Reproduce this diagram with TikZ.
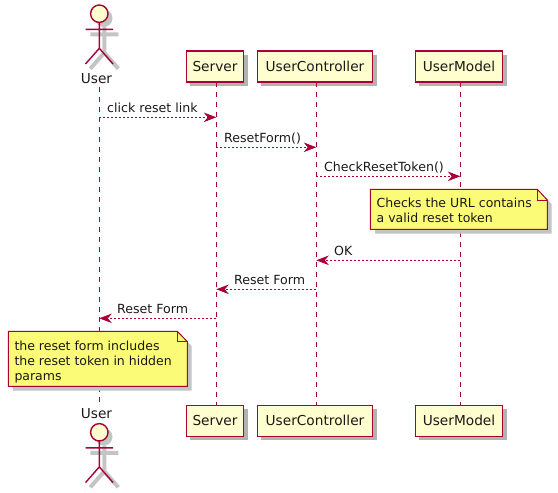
\documentclass[tikz,border=0pt]{standalone}
\usepackage{fontspec}
\setmainfont{DejaVu Sans}
\usetikzlibrary{arrows.meta, shadows}
\definecolor{umlred}{HTML}{A80036}
\definecolor{umlfill}{HTML}{FEFECE}
\definecolor{umlnote}{HTML}{FBFB77}
\definecolor{umlshadow}{HTML}{C4C4C4}
\newcommand{\umlactor}[2]{% head centre x, y
  \fill[umlshadow] (#1+4.5,#2+4.5) circle (8.7);
  \draw[umlshadow, line width=4pt] (#1+5,#2+13) -- (#1+5,#2+39) (#1-9,#2+20.6) -- (#1+19,#2+20.6) (#1-9,#2+55) -- (#1+5,#2+39) -- (#1+19,#2+55);
  \draw[umlred, line width=1.4pt, fill=umlfill] (#1,#2) circle (8.7);
  \draw[umlred, line width=1.4pt] (#1,#2+8.7) -- (#1,#2+34.6) (#1-13.8,#2+15.6) -- (#1+13.8,#2+15.6) (#1-13.8,#2+50.3) -- (#1,#2+34.6) -- (#1+13.8,#2+50.3);
}
\begin{document}
\begin{tikzpicture}[x=1pt, y=-1pt,
    box style/.style={draw=umlred, fill=umlfill, line width=1.4pt, minimum height=31pt, inner sep=0pt, font=\fontsize{13.7}{16}\selectfont, text=black!90, drop shadow={shadow xshift=4pt, shadow yshift=-4pt, fill=black!30, opacity=1}},
    actor label/.style={font=\fontsize{13.7}{16}\selectfont, text=black!90, inner sep=0pt},
    life style/.style={draw=umlred, dash pattern=on 5pt off 5pt, line width=0.8pt},
    msg style/.style={draw=umlred, dash pattern=on 2pt off 2pt, line width=0.8pt, -{Stealth[length=12.5pt, width=9.5pt, inset=4pt, fill=umlred]}},
    label style/.style={font=\fontsize{12.6}{15}\selectfont, text=black!90, inner sep=0pt, anchor=base west},
    note text/.style={font=\fontsize{12.5}{15}\selectfont, text=black!90, inner sep=0pt, align=left, anchor=base west}
  ]
  \useasboundingbox (0,0) rectangle (558,493);

  % Top row
  \node[actor label] (user) at (96.5,79) {User};
  \node[box style, minimum width=57.4pt] (server) at (215,66.3) {Server};
  \node[box style, minimum width=115.4pt] (ctrl) at (315,66.3) {UserController};
  \node[box style, minimum width=87.4pt] (model) at (459,66.3) {UserModel};

  % Bottom row
  \node[actor label] (userb) at (96.5,414) {User};
  \node[box style, minimum width=57.4pt] (serverb) at (215,420.8) {Server};
  \node[box style, minimum width=115.4pt] (ctrlb) at (315,420.8) {UserController};
  \node[box style, minimum width=87.4pt] (modelb) at (459,420.8) {UserModel};

  % Lifelines
  \coordinate (lu) at (99.3,87);
  \coordinate (lub) at (99.3,402);
  \coordinate (ls) at (216.3,81.8);
  \coordinate (lsb) at (216.3,405);
  \coordinate (lc) at (316.3,81.8);
  \coordinate (lcb) at (316.3,405);
  \coordinate (lm) at (460.3,81.8);
  \coordinate (lmb) at (460.3,405);
  \foreach \a/\b in {lu/lub, ls/lsb, lc/lcb, lm/lmb}
    \draw[life style] (\a) -- (\b);

  % Actors
  \umlactor{99.3}{13.7}
  \umlactor{99.3}{432.3}

  % Messages
  \foreach \y/\a/\b/\txt/\lx in {117.3/lu/ls/click reset link/107,
      147.3/ls/lc/ResetForm()/224,
      176.3/lc/lm/CheckResetToken()/324,
      260.3/lm/lc/OK/334,
      289.3/lc/ls/Reset Form/234,
      318.3/ls/lu/Reset Form/117} {
    \draw[msg style] (\a |- 0,\y) -- (\b |- 0,\y);
    \node[label style] at (\lx,\y-4.6) {\txt};
  }

  % Notes
  \fill[umlshadow] (375,193.5) -- (541.5,193.5) -- (551.5,204) -- (551.5,233.5) -- (375,233.5) -- cycle;
  \draw[umlred, fill=umlnote, line width=1pt] (370.3,189.3) -- (537.3,189.3) -- (547.3,200) -- (547.3,229.3) -- (370.3,229.3) -- cycle;
  \draw[umlred, line width=1pt] (537.3,189.3) -- (537.3,200) -- (547.3,200);
  \node[note text] (notea) at (376.5,222) {Checks the URL contains\\a valid reset token};

  \fill[umlshadow] (12.5,335.5) -- (181.5,335.5) -- (191.5,346) -- (191.5,390.5) -- (12.5,390.5) -- cycle;
  \draw[umlred, fill=umlnote, line width=1pt] (8.3,331.3) -- (177.3,331.3) -- (187.3,341.7) -- (187.3,386.3) -- (8.3,386.3) -- cycle;
  \draw[umlred, line width=1pt] (177.3,331.3) -- (177.3,341.7) -- (187.3,341.7);
  \node[note text] (noteb) at (14.3,380) {the reset form includes\\the reset token in hidden\\params};
\end{tikzpicture}
\end{document}
